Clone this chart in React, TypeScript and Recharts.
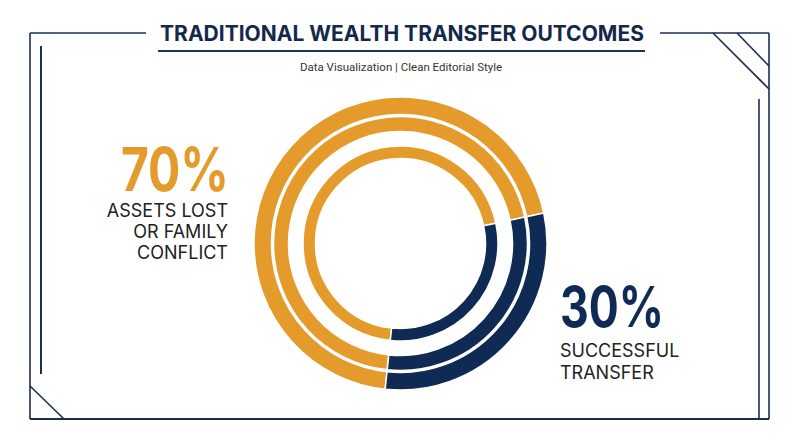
import { Cell, Pie, PieChart } from 'recharts'

const segments = ['Assets lost or family conflict', 'Successful transfer']
const shares = [70, 30]
const segmentColors = ['#E49B2B', '#0F2A55']
const ringNames = ['outer', 'middle', 'inner']

const title = 'TRADITIONAL WEALTH TRANSFER OUTCOMES'
const subtitle = 'Data Visualization | Clean Editorial Style'
const leftValue = '70%'
const leftLabel = ['ASSETS LOST', 'OR FAMILY', 'CONFLICT']
const rightValue = '30%'
const rightLabel = ['SUCCESSFUL', 'TRANSFER']

const W = 800
const H = 447
const CX = 400.5
const CY = 243.5
const FONT = 'Inter, "Noto Sans", sans-serif'
const FRAME = '#1B2E4F'

const rows = segments.map((name, i) => ({ name, value: shares[i] }))

// ring radii, outer to inner
const radii: Record<string, [number, number]> = {
  outer: [129, 146.5],
  middle: [112, 127],
  inner: [85, 97.5],
}

function Frame() {
  const line = (x1: number, y1: number, x2: number, y2: number, w = 1.6) => (
    <line x1={x1} y1={y1} x2={x2} y2={y2} stroke={FRAME} strokeWidth={w} />
  )
  return (
    <g>
      {line(30, 33, 146, 33)}
      {line(660, 33, 769, 33)}
      {line(30, 33, 30, 419)}
      {line(30, 419, 769, 419, 2)}
      {line(769, 33, 769, 419)}
      {line(41, 46, 41, 374, 2)}
      {line(759, 99, 759, 419)}
      {line(713, 33, 769, 89)}
      {line(737, 33, 769, 66)}
      {line(30, 386, 64, 419)}
    </g>
  )
}

export default function App() {
  return (
    <div style={{ position: 'absolute', left: 0, top: 0, width: W, height: H, background: '#fff' }}>
      <PieChart width={W} height={H} margin={{ top: 0, right: 0, bottom: 0, left: 0 }}>
        {ringNames.map((ring) => (
          <Pie
            key={ring}
            data={rows}
            dataKey="value"
            nameKey="name"
            cx={CX}
            cy={CY}
            innerRadius={radii[ring][0]}
            outerRadius={radii[ring][1]}
            startAngle={12}
            endAngle={372}
            stroke="#fff"
            strokeWidth={1.5}
            isAnimationActive={false}
          >
            {rows.map((r, i) => (
              <Cell key={r.name} fill={segmentColors[i]} />
            ))}
          </Pie>
        ))}
      </PieChart>
      <svg
        width={W}
        height={H}
        style={{ position: 'absolute', left: 0, top: 0, pointerEvents: 'none' }}
        fontFamily={FONT}
      >
        <Frame />
        <text x={402} y={41} textAnchor="middle" fontSize={21} fontWeight={700} fill="#14284B">
          {title}
        </text>
        <line x1={158} y1={51} x2={645} y2={51} stroke="#1F3352" strokeWidth={2} />
        <text x={401} y={71} textAnchor="middle" fontSize={11.5} fill="#333" fontFamily="Roboto, sans-serif">
          {subtitle}
        </text>

        <text
          x={121}
          y={191}
          fontSize={60}
          fontWeight={700}
          fill={segmentColors[0]}
          textLength={108}
          lengthAdjust="spacingAndGlyphs"
        >
          {leftValue}
        </text>
        {leftLabel.map((t, i) => (
          <text key={t} x={228} y={217 + i * 21} textAnchor="end" fontSize={18} fill="#222">
            {t}
          </text>
        ))}

        <text
          x={560}
          y={327}
          fontSize={56}
          fontWeight={700}
          fill={segmentColors[1]}
          textLength={104}
          lengthAdjust="spacingAndGlyphs"
        >
          {rightValue}
        </text>
        {rightLabel.map((t, i) => (
          <text key={t} x={560} y={357 + i * 22} textAnchor="start" fontSize={18} fill="#222">
            {t}
          </text>
        ))}
      </svg>
    </div>
  )
}
